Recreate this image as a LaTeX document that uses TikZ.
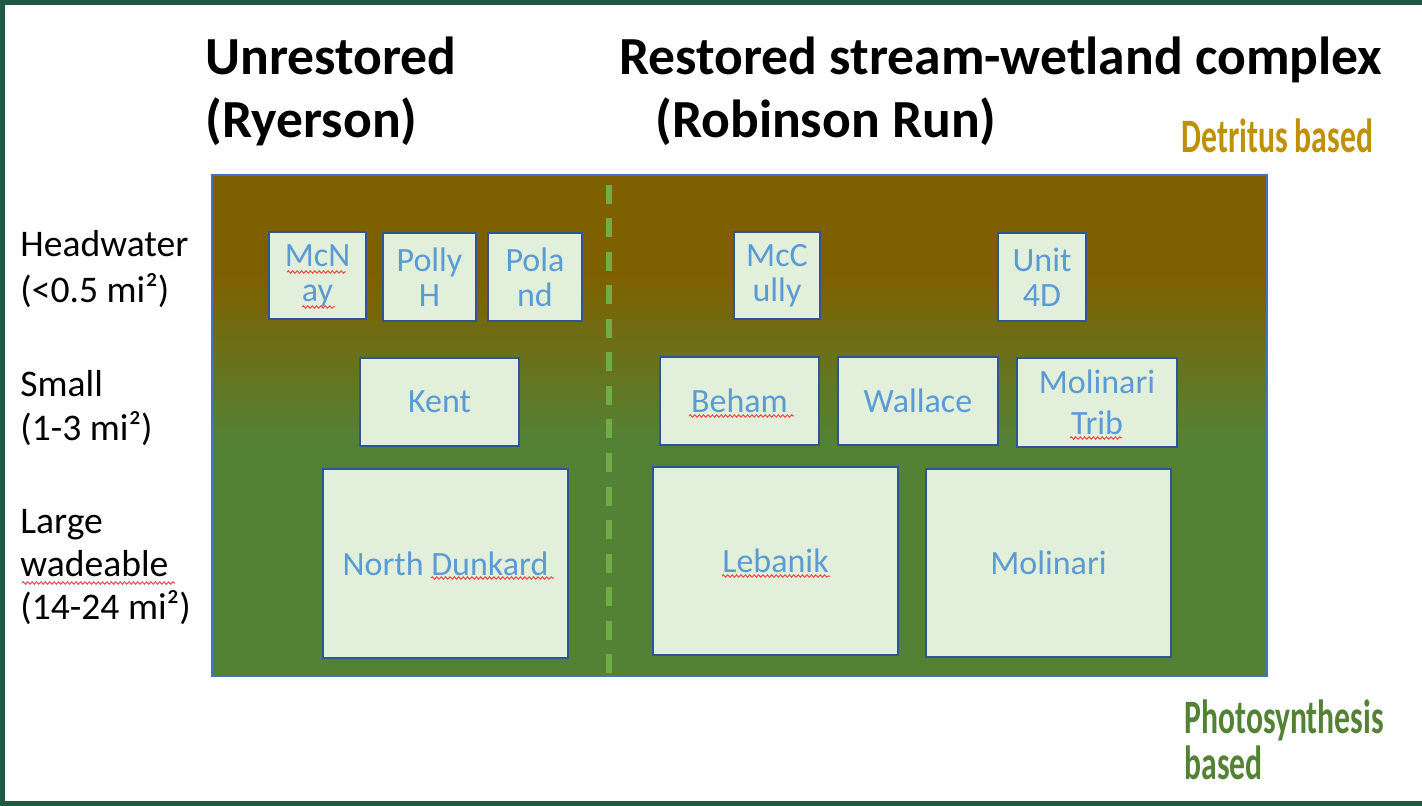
\documentclass[tikz,border=0pt]{standalone}
\usepackage{fontspec}
\setmainfont{Carlito}
\newfontfamily\agency[FakeStretch=0.66]{Carlito}
\usetikzlibrary{decorations.pathmorphing}
\definecolor{frameg}{HTML}{1F5943}
\definecolor{pbrown}{HTML}{7F6000}
\definecolor{pgreen}{HTML}{548235}
\definecolor{dashg}{HTML}{70AD47}
\definecolor{cellfill}{HTML}{E2EFDA}
\definecolor{celldraw}{HTML}{2F5597}
\definecolor{celltext}{HTML}{5B9BD5}
\definecolor{goldt}{HTML}{BF9000}
\definecolor{rimblue}{HTML}{4472C4}
\definecolor{squigred}{HTML}{F04848}
\pgfdeclareverticalshading{bgshade}{100bp}{color(0bp)=(pgreen); color(48.5bp)=(pgreen); color(65bp)=(pbrown); color(100bp)=(pbrown)}
\tikzset{
  cell/.style={draw=celldraw, line width=1pt, fill=cellfill, text=celltext,
    font=\fontsize{17}{17.5}\selectfont, align=center, inner sep=0pt},
  title/.style={anchor=base west, inner sep=0pt, font=\fontsize{26.8}{28}\selectfont\bfseries},
  rowlabel/.style={anchor=base west, inner sep=0pt, font=\fontsize{18.8}{20}\selectfont},
  basis/.style={anchor=base west, inner sep=0pt, font=\agency\bfseries\fontsize{24}{26}\selectfont},
  divider/.style={draw=dashg, line width=2.6pt, dash pattern=on 9.5pt off 7.25pt},
  squig/.style={draw=squigred, line width=0.5pt, decorate, decoration={snake, amplitude=0.6pt, segment length=2.2pt}}
}
\begin{document}
\begin{tikzpicture}[x=0.5pt, y=-0.5pt]
\useasboundingbox (0,0) rectangle (1422,806);
% frame
\fill[frameg] (0,0) rectangle (1422,5);
\fill[frameg] (0,0) rectangle (5,806);
\fill[frameg] (0,801) rectangle (1422,806);
% panel
\shadedraw[shading=bgshade, draw=rimblue, line width=0.6pt] (212,175) rectangle (1267,676);
% divider
\coordinate (divtop) at (609,185);
\coordinate (divbot) at (609,676);
\draw[divider] (divtop) -- (divbot);
% titles
\node[title] (t1a) at (205,75) {Unrestored};
\node[title] (t1b) at (205,138) {(Ryerson)};
\node[title] (t2a) at (619,75) {Restored stream-wetland complex};
\node[title] (t2b) at (655,138) {(Robinson Run)};
% row labels
\node[rowlabel] (hw1) at (20,257) {Headwater};
\node[rowlabel] (hw2) at (20,303) {(<0.5 mi²)};
\node[rowlabel] (sm1) at (20,397) {Small};
\node[rowlabel] (sm2) at (20,441) {(1-3 mi²)};
\node[rowlabel] (lg1) at (20,533) {Large};
\node[rowlabel] (lg2) at (20,576) {wadeable};
\node[rowlabel] (lg3) at (20,619) {(14-24 mi²)};
% basis labels
\node[basis, text=goldt] (detritus) at (1181,153) {Detritus based};
\node[basis, text=pgreen] (photo1) at (1184,733) {Photosynthesis};
\node[basis, text=pgreen] (photo2) at (1184,779) {based};
% cells
\node[cell, minimum width=48.5pt, minimum height=43.5pt] (mcnay) at (317.5,275.5) {McN\\ay};
\node[cell, minimum width=46.5pt, minimum height=44pt] (pollyh) at (429.5,277) {Polly\\H};
\node[cell, minimum width=47pt, minimum height=44pt] (poland) at (535,277) {Pola\\nd};
\node[cell, minimum width=43pt, minimum height=43.5pt] (mccully) at (777,275.5) {McC\\ully};
\node[cell, minimum width=44pt, minimum height=44pt] (unit4d) at (1042,277) {Unit\\4D};
\node[cell, minimum width=79.5pt, minimum height=44pt] (kent) at (439.5,402) {Kent};
\node[cell, minimum width=79.5pt, minimum height=44pt] (beham) at (739.5,401) {Beham};
\node[cell, minimum width=80pt, minimum height=44pt] (wallace) at (918,401) {Wallace};
\node[cell, minimum width=80pt, minimum height=44.5pt, font=\fontsize{17}{20.5}\selectfont] (moltrib) at (1097,402.5) {Molinari\\Trib};
\node[cell, minimum width=122.5pt, minimum height=94.5pt] (ndunkard) at (445.5,563.5) {North Dunkard};
\node[cell, minimum width=122.5pt, minimum height=94pt] (lebanik) at (775.5,561) {Lebanik};
\node[cell, minimum width=122.5pt, minimum height=94pt] (molinari) at (1048.5,563) {Molinari};
% spell-check squiggles
\draw[squig] (287,272) -- (346,272);
\draw[squig] (302,307) -- (335,307);
\draw[squig] (689,416) -- (794,416);
\draw[squig] (1070,438) -- (1122,438);
\draw[squig] (431,578) -- (554,578);
\draw[squig] (722,576) -- (830,576);
\draw[squig] (22,583) -- (175,583);
\end{tikzpicture}
\end{document}
